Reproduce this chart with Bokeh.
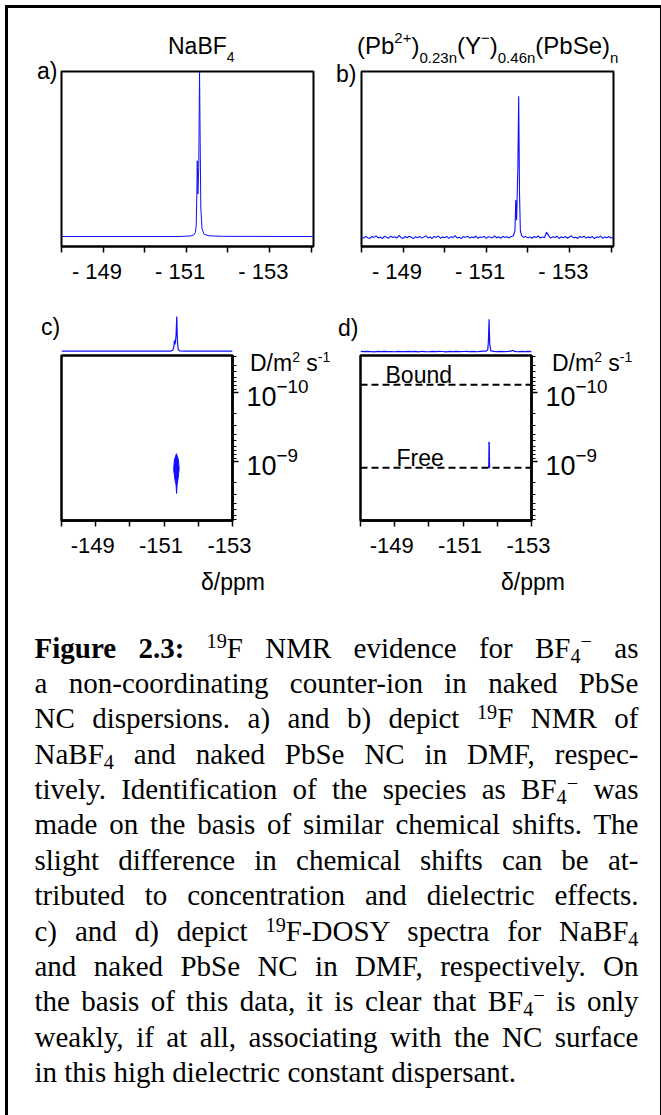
from bokeh.plotting import figure
from bokeh.layouts import column, row
from bokeh.models import Range1d, FixedTicker, Label, Div, LogTickFormatter
from bokeh.embed import file_html
from bokeh.resources import INLINE

# ---------------- data ----------------
# a) 19F NMR of NaBF4 (ppm, relative intensity; 1 = top of panel)
a_ppm = [-148.00, -150.80, -151.10, -151.18, -151.22, -151.24, -151.255, -151.265, -151.28,
         -151.30, -151.32, -151.335, -151.35, -151.38, -151.43, -151.55, -151.90, -154.06]
a_int = [0.057, 0.057, 0.060, 0.066, 0.080, 0.120, 0.300, 0.490, 0.300,
         0.450, 1.000, 0.600, 0.220, 0.100, 0.070, 0.061, 0.058, 0.057]

# b) 19F NMR of naked PbSe NC (noisy baseline)
b_ppm = [-148.00, -148.05, -148.10, -148.15, -148.20, -148.25, -148.30, -148.35, -148.40, -148.45,
         -148.50, -148.55, -148.60, -148.65, -148.70, -148.75, -148.80, -148.85, -148.90, -148.95,
         -149.00, -149.05, -149.10, -149.15, -149.20, -149.25, -149.30, -149.35, -149.40, -149.45,
         -149.50, -149.55, -149.60, -149.65, -149.70, -149.75, -149.80, -149.85, -149.90, -149.95,
         -150.00, -150.05, -150.10, -150.15, -150.20, -150.25, -150.30, -150.35, -150.40, -150.45,
         -150.50, -150.55, -150.60, -150.65, -150.70, -150.75, -150.80, -150.85, -150.90, -150.95,
         -151.00, -151.05, -151.10, -151.15, -151.20, -151.25, -151.30, -151.35, -151.40, -151.45,
         -151.50, -151.55, -151.60,
         -151.65, -151.69, -151.71, -151.73, -151.76, -151.78, -151.80, -151.82, -151.85,
         -151.90, -151.95, -152.00, -152.05, -152.10, -152.15, -152.20, -152.25, -152.30, -152.35,
         -152.40, -152.45, -152.50, -152.55, -152.60, -152.65, -152.70, -152.75, -152.80, -152.85,
         -152.90, -152.95, -153.00, -153.05, -153.10, -153.15, -153.20, -153.25, -153.30, -153.35,
         -153.40, -153.45, -153.50, -153.55, -153.60, -153.65, -153.70, -153.75, -153.80, -153.85,
         -153.90, -153.95, -154.00, -154.05]
b_int = [0.055, 0.048, 0.058, 0.050, 0.046, 0.057, 0.052, 0.061, 0.049, 0.054,
         0.045, 0.058, 0.053, 0.047, 0.060, 0.051, 0.056, 0.048, 0.063, 0.052,
         0.046, 0.057, 0.050, 0.059, 0.053, 0.045, 0.056, 0.050, 0.058, 0.048,
         0.055, 0.061, 0.049, 0.054, 0.046, 0.057, 0.052, 0.060, 0.047, 0.055,
         0.050, 0.058, 0.046, 0.056, 0.051, 0.062, 0.049, 0.053, 0.045, 0.057,
         0.052, 0.059, 0.048, 0.055, 0.050, 0.060, 0.047, 0.054, 0.051, 0.058,
         0.046, 0.056, 0.053, 0.049, 0.061, 0.050, 0.055, 0.047, 0.058, 0.052,
         0.056, 0.049, 0.058,
         0.060, 0.090, 0.265, 0.150, 0.450, 0.858, 0.300, 0.090, 0.062,
         0.052, 0.058, 0.049, 0.055, 0.047, 0.057, 0.051, 0.060, 0.048, 0.054,
         0.050, 0.082, 0.062, 0.048, 0.056, 0.051, 0.059, 0.046, 0.055, 0.050,
         0.058, 0.047, 0.054, 0.061, 0.049, 0.053, 0.046, 0.057, 0.051, 0.059,
         0.048, 0.055, 0.050, 0.058, 0.045, 0.054, 0.052, 0.060, 0.047, 0.055,
         0.050, 0.057, 0.049, 0.053]

# c) 1D projection above the DOSY map of NaBF4
c_proj_ppm = [-148.00, -151.00, -151.20, -151.26, -151.29, -151.30, -151.32, -151.35,
              -151.37, -151.39, -151.41, -151.45, -151.60, -153.00]
c_proj_int = [0.038, 0.038, 0.040, 0.060, 0.130, 0.217, 0.150, 0.300,
              0.617, 0.200, 0.070, 0.042, 0.038, 0.038]
# c) DOSY cross peak outline (ppm, D in m^2 s^-1)
c_spot_ppm = [-151.36, -151.42, -151.44, -151.41, -151.38, -151.365, -151.35, -151.31, -151.28, -151.30]
c_spot_D = [7.7e-10, 9.5e-10, 1.3e-9, 1.75e-9, 2.2e-9, 2.9e-9, 2.2e-9, 1.75e-9, 1.3e-9, 9.5e-10]

# d) 1D projection above the DOSY map of naked PbSe NC
d_proj_ppm = [-148.0, -148.1, -148.2, -148.3, -148.4, -148.5, -148.6, -148.7, -148.8, -148.9,
              -149.0, -149.1, -149.2, -149.3, -149.4, -149.5, -149.6, -149.7, -149.8, -149.9,
              -150.0, -150.1, -150.2, -150.3, -150.4, -150.5, -150.6, -150.7, -150.8, -150.9,
              -151.0, -151.1, -151.2, -151.3, -151.4, -151.5, -151.6,
              -151.68, -151.72, -151.74, -151.76, -151.78, -151.81,
              -151.90, -152.00, -152.10, -152.20, -152.30, -152.40, -152.45, -152.50, -152.60,
              -152.70, -152.80, -152.90, -153.00]
d_proj_int = [0.035, 0.030, 0.036, 0.032, 0.028, 0.034, 0.031, 0.037, 0.030, 0.033,
              0.029, 0.035, 0.032, 0.030, 0.036, 0.031, 0.034, 0.028, 0.037, 0.032,
              0.029, 0.035, 0.030, 0.036, 0.033, 0.028, 0.034, 0.031, 0.036, 0.030,
              0.033, 0.037, 0.031, 0.034, 0.029, 0.035, 0.038,
              0.040, 0.060, 0.200, 0.570, 0.150, 0.045,
              0.034, 0.030, 0.036, 0.031, 0.034, 0.038, 0.055, 0.035, 0.029,
              0.034, 0.031, 0.036, 0.032]
# d) DOSY cross peak outline
d_spot_ppm = [-151.76, -151.775, -151.78, -151.745, -151.75]
d_spot_D = [5.2e-10, 1.0e-9, 1.23e-9, 1.23e-9, 1.0e-9]
# d) reference diffusion levels
level_names = ["Bound", "Free"]
level_D = [7.7e-11, 1.23e-9]
level_ppm = [-148.0, -153.0]

# axes
ticks_1d = [-148, -149, -150, -151, -152, -153, -154]
labels_1d = ["", "- 149\u00a0\u00a0", "", "- 151\u00a0\u00a0", "", "- 153\u00a0\u00a0", ""]
ticks_2d = [-148, -149, -150, -151, -152, -153]
labels_2d = ["", "-149\u00a0", "", "-151\u00a0", "", "-153\u00a0"]
D_major = [1e-10, 1e-9]
D_minor = [3e-11, 4e-11, 5e-11, 6e-11, 7e-11, 8e-11, 9e-11,
           2e-10, 3e-10, 4e-10, 5e-10, 6e-10, 7e-10, 8e-10, 9e-10,
           2e-9, 3e-9, 4e-9, 5e-9, 6e-9, 7e-9]

# panel texts
title_a = "NaBF<sub>4</sub>"
title_b = "(Pb<sup>2+</sup>)<sub>0.23n</sub>(Y<sup>\u2212</sup>)<sub>0.46n</sub>(PbSe)<sub>n</sub>"
panel_tags = ["a)", "b)", "c)", "d)"]
d_axis_title = "D/m<sup>2</sup> s<sup>-1</sup>"
ppm_axis_title = "\u03b4/ppm"

caption_lines = [
    "<b>Figure 2.3:</b> <sup>19</sup>F NMR evidence for BF<sub>4</sub><sup>&minus;</sup> as",
    "a non-coordinating counter-ion in naked PbSe",
    "NC dispersions. a) and b) depict <sup>19</sup>F NMR of",
    "NaBF<sub>4</sub> and naked PbSe NC in DMF, respec-",
    "tively. Identification of the species as BF<sub>4</sub><sup>&minus;</sup> was",
    "made on the basis of similar chemical shifts. The",
    "slight difference in chemical shifts can be at-",
    "tributed to concentration and dielectric effects.",
    "c) and d) depict <sup>19</sup>F-DOSY spectra for NaBF<sub>4</sub>",
    "and naked PbSe NC in DMF, respectively. On",
    "the basis of this data, it is clear that BF<sub>4</sub><sup>&minus;</sup> is only",
    "weakly, if at all, associating with the NC surface",
    "in this high dielectric constant dispersant.",
]

# ---------------- styling helpers ----------------
SANS = "Liberation Sans"
BLUE = "#1010ff"


def make_fig(w, h, mbl, mbr, mbt, mbb, xr, yr, **kw):
    p = figure(width=w, height=h, x_range=xr, y_range=yr, title=None,
               min_border_left=mbl, min_border_right=mbr, min_border_top=mbt, min_border_bottom=mbb,
               toolbar_location=None, output_backend="svg", **kw)
    p.grid.visible = False
    p.background_fill_color = "white"
    p.border_fill_color = "white"
    return p


def style_x_axis(p, ticks, labels, fsize):
    ax = p.xaxis[0]
    ax.ticker = FixedTicker(ticks=ticks, minor_ticks=[])
    ax.major_label_overrides = {t: l for t, l in zip(ticks, labels)}
    ax.major_label_text_font = SANS
    ax.major_label_text_font_size = f"{fsize}px"
    ax.major_label_text_color = "black"
    ax.major_label_standoff = 6
    ax.major_tick_in = 0
    ax.major_tick_out = 6
    ax.major_tick_line_width = 1.5
    ax.axis_line_width = 2
    ax.axis_line_color = "black"


# ---------------- a) ----------------
fa = make_fig(330, 293, 61, 17, 71, 47, Range1d(-148, -154.06), Range1d(0, 1),
              y_axis_location=None)
fa.outline_line_color = "black"
fa.outline_line_width = 2
fa.line(a_ppm, a_int, line_color=BLUE, line_width=1)
style_x_axis(fa, ticks_1d, labels_1d, 22)

# ---------------- b) ----------------
fb = make_fig(325, 293, 31, 42, 71, 47, Range1d(-148, -154.06), Range1d(0, 1),
              y_axis_location=None)
fb.outline_line_color = "black"
fb.outline_line_width = 2
fb.line(b_ppm, b_int, line_color=BLUE, line_width=1.1)
style_x_axis(fb, ticks_1d, labels_1d, 22)


# ---------------- c) and d) ----------------
def dosy_pair(mbl, mbr, proj_ppm, proj_int, spot_ppm, spot_D, w):
    pr = make_fig(w, 60, mbl, mbr, 0, 0, Range1d(-148, -153), Range1d(0, 1),
                  x_axis_location=None, y_axis_location=None)
    pr.outline_line_color = None
    pr.line(proj_ppm, proj_int, line_color=BLUE, line_width=1.2)

    p = make_fig(w, 252, mbl, mbr, 2, 85, Range1d(-148, -153), Range1d(10 ** -8.145, 10 ** -10.536),
                 y_axis_type="log", y_axis_location="right")
    p.outline_line_color = "black"
    p.outline_line_width = 2.5
    p.patch(spot_ppm, spot_D, fill_color=BLUE, line_color=BLUE, line_width=1)
    style_x_axis(p, ticks_2d, labels_2d, 22)
    p.xaxis[0].axis_line_width = 2.5
    ay = p.yaxis[0]
    ay.ticker = FixedTicker(ticks=D_major, minor_ticks=D_minor)
    ay.formatter = LogTickFormatter()
    ay.major_label_text_font = SANS
    ay.major_label_text_font_size = "27px"
    ay.major_label_text_color = "black"
    ay.major_label_standoff = 8
    ay.major_tick_in = 0
    ay.major_tick_out = 6
    ay.minor_tick_in = 0
    ay.minor_tick_out = 4
    ay.major_tick_line_width = 1.5
    ay.minor_tick_line_width = 1.2
    ay.axis_line_width = 2.5
    return pr, p


pc, fc = dosy_pair(61, 98, c_proj_ppm, c_proj_int, c_spot_ppm, c_spot_D, 330)
pd_, fd = dosy_pair(30, 124, d_proj_ppm, d_proj_int, d_spot_ppm, d_spot_D, 325)
for D in level_D:
    fd.line(level_ppm, [D, D], line_color="black", line_width=2, line_dash="7 4")
for name, x, y in zip(level_names, [25, 36], [146, 63]):
    fd.add_layout(Label(x=x, y=y, x_units="screen", y_units="screen", text=name,
                        text_font=SANS, text_font_size="23px", text_color="black",
                        text_baseline="alphabetic"))

# ---------------- texts outside the plot frames (HTML overlay) + outer frame ----------------
ASC = 0.8465  # baseline position inside a line box of line-height 1 (Liberation Sans)


def place(x, base, size, html, sub_size=None, sup_size=None, sub_dy=0, sup_dy=0):
    if sub_size:
        html = html.replace("<sub>", f"<span style='font-size:{sub_size}px;position:relative;top:{sub_dy}px'>").replace("</sub>", "</span>")
    if sup_size:
        html = html.replace("<sup>", f"<span style='font-size:{sup_size}px;position:relative;top:{sup_dy}px'>").replace("</sup>", "</span>")
    top = base - ASC * size
    return (f"<div style=\"position:absolute;left:{x}px;top:{top:.1f}px;font-family:'{SANS}';"
            f"font-size:{size}px;line-height:{size}px;white-space:nowrap;color:black\">{html}</div>")


ov = [
    "<div style='position:absolute;left:0px;top:0px;width:658px;height:1114px;"
    "box-sizing:border-box;border:3px solid black'></div>",
    place(32, 74, 23, panel_tags[0]),
    place(163, 49, 23, title_a, sub_size=14, sub_dy=8),
    place(331, 77, 23, panel_tags[1]),
    place(352, 49, 24, title_b, sub_size=15, sub_dy=9, sup_size=15, sup_dy=-11),
    place(36, 330, 23, panel_tags[2]),
    place(333, 331, 23, panel_tags[3]),
    place(245, 366, 23, d_axis_title, sup_size=14, sup_dy=-9),
    place(547, 366, 23, d_axis_title, sup_size=14, sup_dy=-9),
    place(196, 585, 23, ppm_axis_title),
    place(496, 585, 23, ppm_axis_title),
]
overlay = Div(text="".join(ov), width=661, height=1115,
              styles={"position": "absolute", "left": "0px", "top": "0px",
                      "pointer-events": "none", "z-index": "10"})

# ---------------- caption ----------------
css = ("<style>sup,sub{font-size:70%;line-height:0;position:relative;vertical-align:baseline}"
       "sup{top:-0.45em}sub{top:0.25em}"
       ".ln{text-align:justify;text-align-last:justify;height:35.4px}"
       ".last{text-align:left;text-align-last:left;height:35.4px}</style>")
body = "".join(
    f"<div class='{'last' if i == len(caption_lines) - 1 else 'ln'}'>{t}</div>"
    for i, t in enumerate(caption_lines))
html = (css + "<div style=\"width:604px;margin-left:29.5px;padding-top:20.5px;"
        "font-family:'Liberation Serif';font-size:29px;line-height:35.4px;color:black\">"
        + body + "</div>")
cap = Div(text=html, width=655, height=506)

layout = column(row(fa, fb), row(column(pc, fc), column(pd_, fd)), cap, overlay)

open("out.html", "w").write(file_html(layout, INLINE))
